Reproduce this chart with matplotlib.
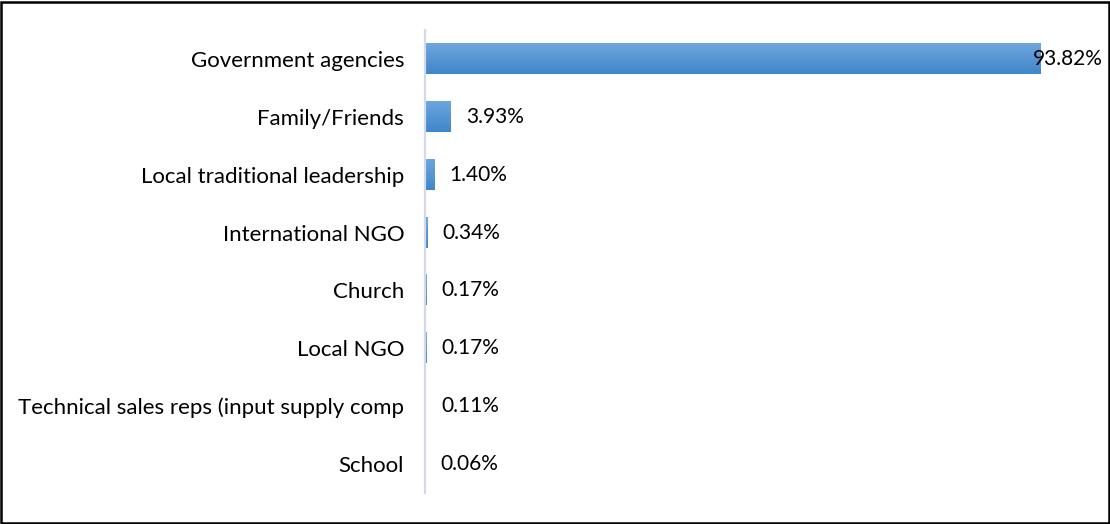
import numpy as np
import matplotlib
matplotlib.use("Agg")
import matplotlib.pyplot as plt
from matplotlib.patches import Rectangle

# sources of information, share of respondents (%)
sources = ["Government agencies", "Family/Friends", "Local traditional leadership",
           "International NGO", "Church", "Local NGO",
           "Technical sales reps (input supply comp", "School"]
shares = [93.82, 3.93, 1.40, 0.34, 0.17, 0.17, 0.11, 0.06]

plt.rcParams["font.family"] = ["Lato", "DejaVu Sans"]
FS = 15

fig = plt.figure(figsize=(11.1, 5.24), dpi=100)
ax = fig.add_axes([425 / 1110, 1 - 493 / 524, (1103 - 425) / 1110, (493 - 30) / 524])

ypos = np.arange(len(sources))
bars = ax.barh(ypos, shares, height=0.52, color="none")
ax.set_xlim(0, 103.3)
ax.set_ylim(len(sources) - 0.5, -0.5)

# vertical gradient fill, light on top and darker at the bottom
grad = np.linspace(0, 1, 64).reshape(-1, 1)
cmap = matplotlib.colors.LinearSegmentedColormap.from_list("bar", ["#6ea6dd", "#3f86ca"])
for b in bars:
    x0, y0, w, h = b.get_x(), b.get_y(), b.get_width(), b.get_height()
    ax.imshow(grad, cmap=cmap, aspect="auto", extent=(x0, x0 + w, y0 + h, y0),
              interpolation="bilinear", zorder=2)

# value labels
for i, v in enumerate(shares):
    txt = f"{v:.2f}%"
    if i == 0:
        ax.text(1.0, i, txt, transform=ax.get_yaxis_transform(), ha="right",
                va="center", fontsize=FS, zorder=3)
    else:
        ax.annotate(txt, (v, i), xytext=(11, 0), textcoords="offset points",
                    ha="left", va="center", fontsize=FS)

ax.set_yticks(ypos)
ax.set_yticklabels(sources, fontsize=16)
ax.tick_params(axis="y", length=0, pad=15)
ax.set_xticks([])
for s in ["top", "right", "bottom"]:
    ax.spines[s].set_visible(False)
ax.spines["left"].set_color("#d3d9e6")
ax.spines["left"].set_linewidth(1.6)

# outer frame
fig.patches.append(Rectangle((0.001, 0.002), 0.998, 0.995, transform=fig.transFigure,
                             fill=False, edgecolor="black", linewidth=1.8))

fig.savefig("out.png", dpi=100)
